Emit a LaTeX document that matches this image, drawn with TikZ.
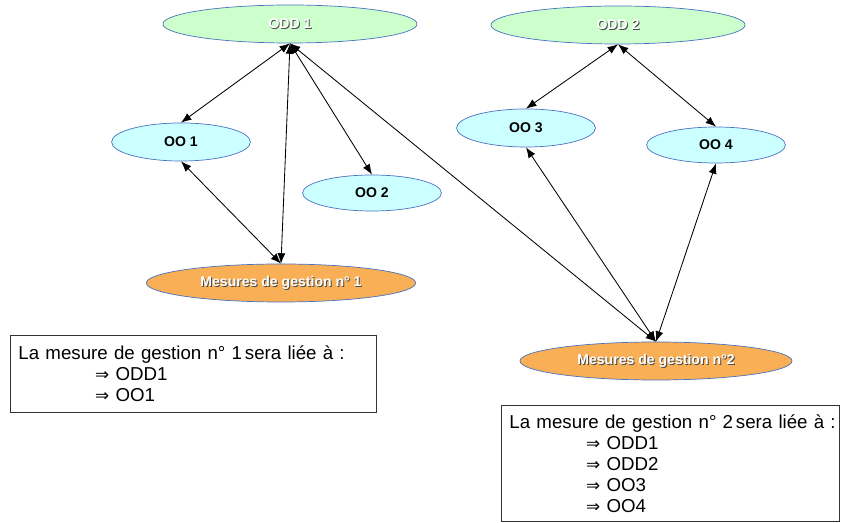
\documentclass[tikz,border=0pt]{standalone}
\usepackage{fontspec}
\setmainfont{Liberation Sans}
\newfontfamily\arrowfont{DejaVu Sans}
\usetikzlibrary{arrows.meta,shapes.geometric}
\definecolor{oddgreen}{HTML}{CCFFCC}
\definecolor{oocyan}{HTML}{CCFFFF}
\definecolor{mesorange}{HTML}{F8AF55}
\definecolor{rimblue}{HTML}{4A72C0}
\newcommand{\shtext}[1]{\makebox[0pt][l]{\hspace{0.7pt}\raisebox{-0.7pt}{\color{black!70}#1}}{\color{white}#1}}
\newcommand{\impl}{\hspace*{1.92cm}{\arrowfont\fontsize{12}{12}\selectfont ⇒}\ }

\begin{document}
\begin{tikzpicture}[x=0.025cm,y=-0.025cm,
	ell/.style={ellipse, draw=rimblue, line width=0.5pt, inner sep=0pt, minimum height=0.95cm,
		font=\fontsize{10}{10}\selectfont\bfseries},
	odd/.style={ell, fill=oddgreen, minimum width=6.35cm},
	oo/.style={ell, fill=oocyan, minimum width=3.47cm},
	mes/.style={ell, fill=mesorange},
	note/.style={draw=black!80, line width=0.6pt, anchor=north west, inner xsep=0.2cm, align=left,
		font=\fontsize{13.3}{14.9}\selectfont},
	link/.style={{Latex[length=2.6mm,width=2mm]}-{Latex[length=2.6mm,width=2mm]}, line width=0.6pt}]
	\useasboundingbox (0,0) rectangle (843,523);
	\node[odd] (odd1) at (290,24) {\shtext{ODD 1}};
	\node[odd] (odd2) at (618,25) {\shtext{ODD 2}};
	\node[oo] (oo1) at (181,142) {OO 1};
	\node[oo, minimum height=0.9cm] (oo2) at (372,193) {OO 2};
	\node[oo] (oo3) at (526,128) {OO 3};
	\node[oo, minimum height=0.9cm] (oo4) at (716,145) {OO 4};
	\node[mes, minimum width=6.73cm] (mes1) at (281,283) {\shtext{Mesures de gestion n° 1}};
	\node[mes, minimum width=6.8cm] (mes2) at (656,361) {\shtext{Mesures de gestion n°2}};
	\node[note, text width=8.75cm, minimum height=1.925cm] (note1) at (10,335)
		{\mbox{La mesure de gestion n° 1\hspace{0.15em}sera liée à :}\\ \impl ODD1\\ \impl OO1};
	\node[note, text width=8.05cm, minimum height=2.9cm] (note2) at (501,405)
		{\mbox{La mesure de gestion n° 2\hspace{0.15em}sera liée à :}\\ \impl ODD1\\ \impl ODD2\\ \impl OO3\\ \impl OO4};
	\draw[link] (odd1.south) -- (oo1.north);
	\draw[link] (odd1.south) -- (oo2.north);
	\draw[link] (odd1.south) -- (mes1.north);
	\draw[link] (oo1.south) -- (mes1.north);
	\draw[link] (odd1.south) -- (mes2.north);
	\draw[link] (odd2.south) -- (oo3.north);
	\draw[link] (odd2.south) -- (oo4.north);
	\draw[link] (oo3.south) -- (mes2.north);
	\draw[link] (oo4.south) -- (mes2.north);
\end{tikzpicture}
\end{document}
